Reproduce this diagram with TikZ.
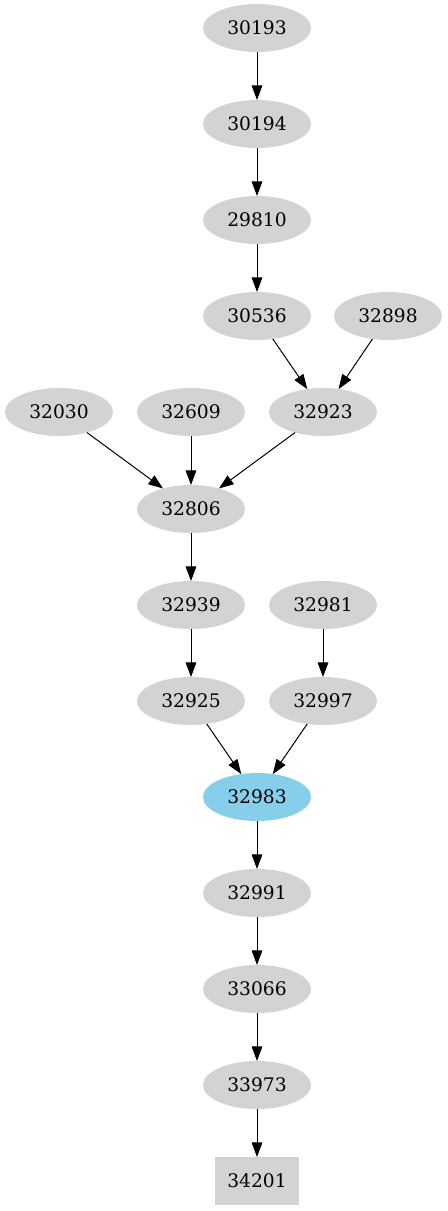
\documentclass[tikz,border=0pt]{standalone}
\usepackage{fontspec}
\setmainfont{DejaVu Serif}
\usetikzlibrary{arrows.meta,shapes.geometric}
\definecolor{nodegray}{HTML}{D3D3D3}
\definecolor{nodeblue}{HTML}{87CEEB}
\begin{document}
\begin{tikzpicture}[x=0.75pt,y=-0.75pt,
  gnode/.style={ellipse,fill=nodegray,draw=none,minimum width=81pt,minimum height=36pt,inner sep=0pt,outer sep=0pt,font=\fontsize{14pt}{16pt}\selectfont},
  hnode/.style={gnode,fill=nodeblue},
  bnode/.style={rectangle,fill=nodegray,draw=none,minimum width=63pt,minimum height=36pt,inner sep=0pt,outer sep=0pt,font=\fontsize{14pt}{16pt}\selectfont},
  edge/.style={-{Triangle[length=11pt,width=8pt]},line width=0.75pt,black}]
\useasboundingbox (0,0) rectangle (447,1211);
\node[gnode] (n30193) at (257,28) {30193};
\node[gnode] (n30194) at (257,124) {30194};
\node[gnode] (n29810) at (257,220) {29810};
\node[gnode] (n30536) at (257,316) {30536};
\node[gnode] (n32898) at (388,316) {32898};
\node[gnode] (n32030) at (59,412) {32030};
\node[gnode] (n32609) at (191,412) {32609};
\node[gnode] (n32923) at (323,412) {32923};
\node[gnode] (n32806) at (191,509) {32806};
\node[gnode] (n32939) at (191,605) {32939};
\node[gnode] (n32981) at (323,605) {32981};
\node[gnode] (n32925) at (191,701) {32925};
\node[gnode] (n32997) at (323,701) {32997};
\node[hnode] (n32983) at (257,797) {32983};
\node[gnode] (n32991) at (257,893) {32991};
\node[gnode] (n33066) at (257,989) {33066};
\node[gnode] (n33973) at (257,1085) {33973};
\node[bnode] (n34201) at (257,1181) {34201};
\draw[edge] (n30193) -- (n30194);
\draw[edge] (n30194) -- (n29810);
\draw[edge] (n29810) -- (n30536);
\draw[edge] (n30536) -- (n32923);
\draw[edge] (n32898) -- (n32923);
\draw[edge] (n32030) -- (n32806);
\draw[edge] (n32609) -- (n32806);
\draw[edge] (n32923) -- (n32806);
\draw[edge] (n32806) -- (n32939);
\draw[edge] (n32939) -- (n32925);
\draw[edge] (n32981) -- (n32997);
\draw[edge] (n32925) -- (n32983);
\draw[edge] (n32997) -- (n32983);
\draw[edge] (n32983) -- (n32991);
\draw[edge] (n32991) -- (n33066);
\draw[edge] (n33066) -- (n33973);
\draw[edge] (n33973) -- (n34201);
\end{tikzpicture}
\end{document}
